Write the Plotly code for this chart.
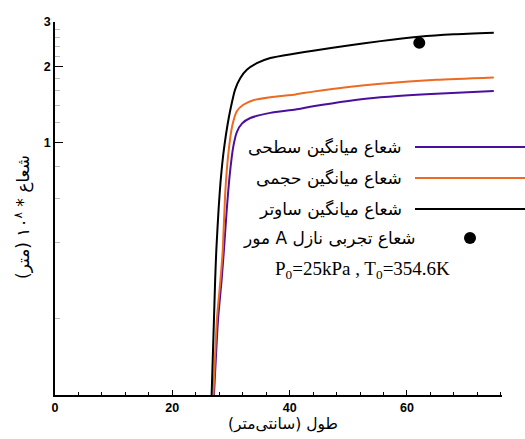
import plotly.graph_objects as go

# ---- data ----
black_x = [26.7, 27.1, 27.3, 27.5, 27.9, 28.2, 28.5, 28.9, 29.4, 29.9, 30.7, 31.6, 32.7, 34.4, 36.7, 41.0, 44.0, 50.0, 55.5, 62.0, 68.0, 74.8]
black_y = [0.10, 0.20, 0.285, 0.375, 0.55, 0.69, 0.82, 0.98, 1.17, 1.35, 1.62, 1.80, 1.94, 2.06, 2.16, 2.25, 2.31, 2.42, 2.52, 2.62, 2.68, 2.72]

orange_x = [27.0, 27.6, 28.2, 28.6, 29.0, 29.5, 30.2, 31.0, 32.1, 33.8, 36.7, 41.0, 44.0, 50.0, 55.5, 65.0, 74.8]
orange_y = [0.10, 0.20, 0.285, 0.375, 0.62, 0.88, 1.16, 1.33, 1.41, 1.47, 1.51, 1.55, 1.59, 1.66, 1.71, 1.77, 1.81]

purple_x = [27.1, 27.8, 28.4, 28.8, 29.3, 29.8, 30.4, 31.0, 31.9, 33.3, 36.7, 41.0, 44.0, 50.0, 55.5, 65.0, 74.8]
purple_y = [0.10, 0.20, 0.285, 0.375, 0.55, 0.75, 0.965, 1.10, 1.19, 1.25, 1.31, 1.35, 1.39, 1.46, 1.51, 1.56, 1.60]

exp_x = [62.1]
exp_y = [2.48]

x_tickvals = [0, 20, 40, 60]
y_tickvals = [1, 2, 3]
y_minor = [0.2, 0.4, 0.6, 0.8, 1.2, 1.4, 1.6, 1.8, 2.2, 2.4, 2.6, 2.8]

legend_labels = ["شعاع میانگین سطحی", "شعاع میانگین حجمی", "شعاع میانگین ساوتر", "شعاع تجربی نازل A مور"]
cond_text = "P<sub>0</sub>=25kPa , T<sub>0</sub>=354.6K"
x_title = "\u202bطول (سانتی\u200cمتر)\u202c"
y_title = "\u202bشعاع * ۱۰<sup>۸</sup> (متر)\u202c"

PURPLE = "#4a0f9c"
ORANGE = "#ec6a22"
BLACK = "#000000"

fig = go.Figure()
line_shape = dict(shape="spline", smoothing=0.6)
fig.add_trace(go.Scatter(x=purple_x, y=purple_y, mode="lines", line=dict(color=PURPLE, width=2, **line_shape), showlegend=False))
fig.add_trace(go.Scatter(x=orange_x, y=orange_y, mode="lines", line=dict(color=ORANGE, width=2, **line_shape), showlegend=False))
fig.add_trace(go.Scatter(x=black_x, y=black_y, mode="lines", line=dict(color=BLACK, width=2, **line_shape), showlegend=False))
fig.add_trace(go.Scatter(x=exp_x, y=exp_y, mode="markers", marker=dict(color=BLACK, size=12), showlegend=False))

W, H = 525, 439
L, R, T, B = 55, 23, 22, 44
pw, ph = W - L - R, H - T - B

def px_x(p):
    return (p - L) / pw

def px_y(p):
    return 1 - (p - T) / ph

legend_font = dict(family="DejaVu Sans", size=17, color="black")

# custom legend
rows_y = [147, 178, 209, 238]
colors = [PURPLE, ORANGE, BLACK]
for i, lab in enumerate(legend_labels):
    xr = 418 if i == 3 else 404
    fig.add_annotation(x=px_x(xr), y=px_y(rows_y[i]), xref="paper", yref="paper",
                       text="\u202b" + lab + "\u202c", showarrow=False, xanchor="right", yanchor="middle",
                       font=legend_font)
for i, c in enumerate(colors):
    fig.add_shape(type="line", xref="paper", yref="paper",
                  x0=px_x(415), x1=px_x(525), y0=px_y(rows_y[i]), y1=px_y(rows_y[i]),
                  line=dict(color=c, width=2))
fig.add_shape(type="circle", xref="paper", yref="paper",
              x0=px_x(464), x1=px_x(476), y0=px_y(244), y1=px_y(232),
              fillcolor="black", line=dict(color="black", width=0))
fig.add_annotation(x=px_x(362), y=px_y(270), xref="paper", yref="paper", text=cond_text,
                   showarrow=False, xanchor="center", yanchor="middle",
                   font=dict(family="Liberation Serif", size=19, color="black"))

# axis titles
fig.add_annotation(x=px_x(283), y=px_y(424), xref="paper", yref="paper", text=x_title,
                   showarrow=False, xanchor="center", yanchor="middle",
                   font=dict(family="DejaVu Sans", size=15.5, color="black"))
fig.add_annotation(x=px_x(22), y=px_y(217), xref="paper", yref="paper", text=y_title,
                   showarrow=False, xanchor="center", yanchor="middle", textangle=-90,
                   font=dict(family="DejaVu Sans", size=17, color="black"))

tickfont = dict(family="Liberation Sans", size=12.5, color="black", weight="bold")

fig.update_xaxes(range=[0, 76.2], tickvals=x_tickvals, ticks="inside", ticklen=5, tickwidth=1,
                 tickcolor="black", showline=True, linecolor="black", linewidth=1.5,
                 showgrid=False, zeroline=False, tickfont=tickfont, automargin=False,
                 minor=dict(dtick=4, tick0=0, ticks="inside", ticklen=3, tickcolor="black", showgrid=False))
fig.update_yaxes(type="log", range=[-1, 0.4771], tickvals=y_tickvals, ticktext=["1", "2", "3"],
                 ticks="inside", ticklen=8, tickwidth=1, tickcolor="black",
                 showline=True, linecolor="black", linewidth=1.5, showgrid=False, zeroline=False,
                 tickfont=tickfont, automargin=False,
                 minor=dict(tickvals=y_minor, ticks="inside", ticklen=5, tickcolor="#bbbbbb", showgrid=False))

fig.update_layout(width=W, height=H, margin=dict(l=L, r=R, t=T, b=B),
                  paper_bgcolor="white", plot_bgcolor="white", showlegend=False)

fig.write_html("out.html", config={"displayModeBar": False},
               post_script="document.body.style.margin='0px';")
